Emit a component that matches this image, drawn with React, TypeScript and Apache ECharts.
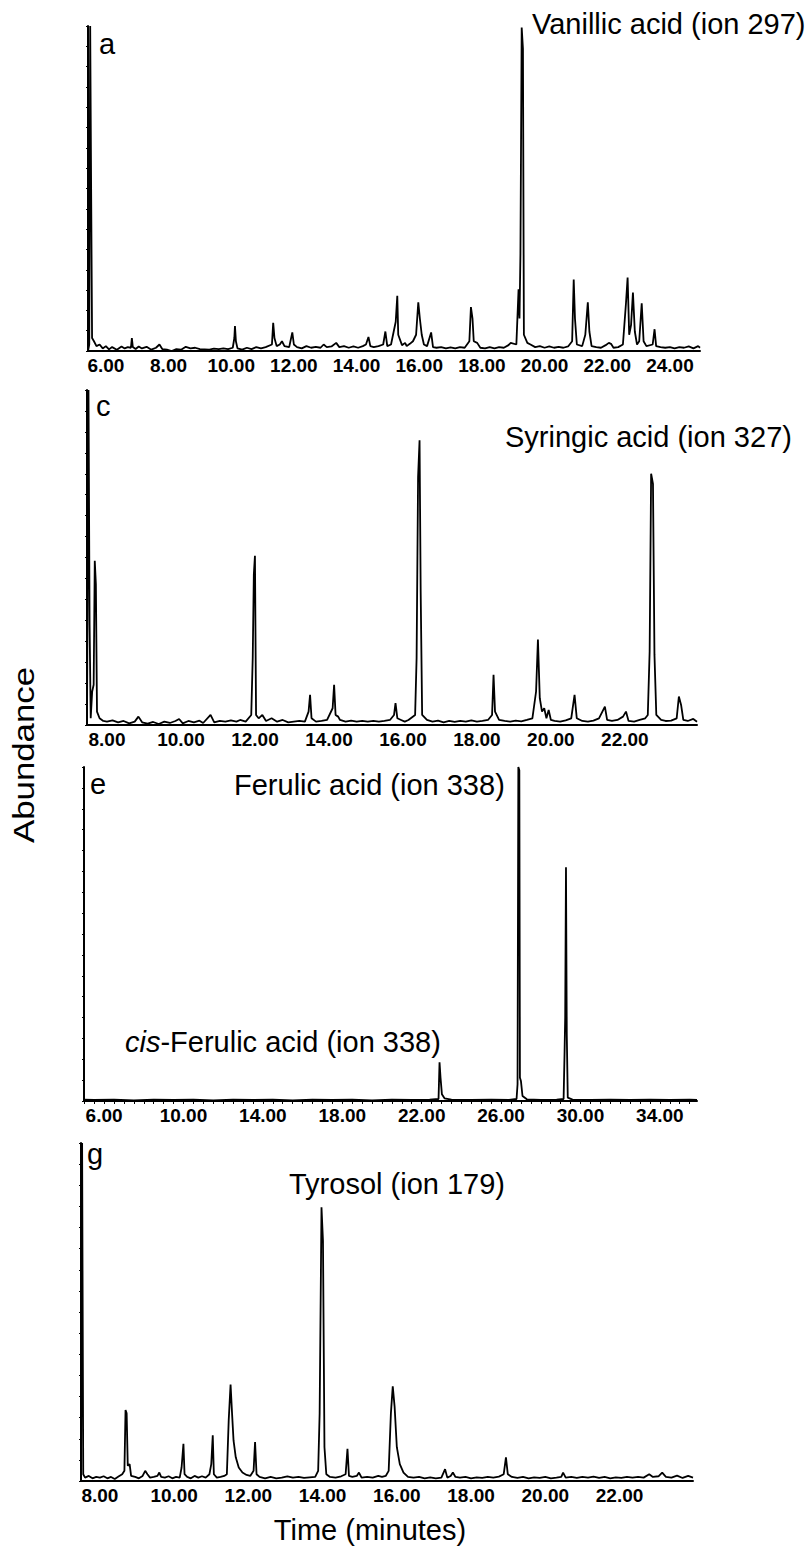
import React, { useEffect, useRef } from "react";
import * as echarts from "echarts";

// ---- data (time in minutes, abundance as fraction of panel height) ----
const vanillicTrace: number[][] = [
  [5.43,0.0],[5.47,0.02],[5.5,1.0],[5.53,0.5],[5.56,0.04],[5.62,0.03],[5.7,0.015],[5.8,0.02],[5.9,0.008],[6.0,0.015],[6.1,0.005],[6.2,0.012],[6.35,0.004],[6.5,0.014],[6.6,0.008],[6.7,0.012],[6.8,0.01],[6.83,0.04],[6.86,0.012],[6.95,0.006],[7.05,0.014],[7.15,0.008],[7.3,0.013],[7.45,0.004],[7.6,0.01],[7.71,0.02],[7.8,0.006],[7.95,0.004],[8.1,0.0],[8.25,0.006],[8.4,0.004],[8.55,0.013],[8.7,0.008],[8.85,0.01],[9.0,0.006],[9.15,0.005],[9.3,0.004],[9.45,0.007],[9.6,0.006],[9.75,0.008],[9.9,0.006],[10.05,0.01],[10.1,0.04],[10.12,0.077],[10.15,0.03],[10.2,0.008],[10.35,0.004],[10.5,0.01],[10.65,0.006],[10.8,0.012],[10.95,0.008],[11.1,0.012],[11.3,0.02],[11.34,0.087],[11.38,0.04],[11.45,0.015],[11.55,0.02],[11.62,0.03],[11.7,0.015],[11.85,0.012],[11.95,0.057],[12.0,0.02],[12.1,0.012],[12.25,0.008],[12.4,0.015],[12.55,0.01],[12.7,0.013],[12.85,0.01],[12.95,0.02],[13.05,0.012],[13.2,0.014],[13.35,0.025],[13.45,0.012],[13.6,0.015],[13.75,0.01],[13.9,0.014],[14.05,0.01],[14.2,0.015],[14.3,0.02],[14.38,0.043],[14.44,0.015],[14.55,0.012],[14.7,0.015],[14.85,0.02],[14.92,0.06],[14.98,0.015],[15.1,0.02],[15.25,0.09],[15.3,0.17],[15.33,0.05],[15.45,0.018],[15.55,0.025],[15.6,0.015],[15.7,0.022],[15.8,0.03],[15.9,0.05],[15.97,0.15],[16.02,0.1],[16.08,0.05],[16.15,0.02],[16.25,0.015],[16.38,0.057],[16.44,0.012],[16.55,0.01],[16.7,0.012],[16.85,0.008],[17.0,0.011],[17.15,0.008],[17.3,0.012],[17.45,0.01],[17.6,0.03],[17.65,0.135],[17.7,0.1],[17.74,0.03],[17.85,0.025],[17.95,0.01],[18.1,0.008],[18.25,0.012],[18.4,0.008],[18.55,0.012],[18.7,0.01],[18.85,0.018],[18.92,0.025],[19.1,0.02],[19.17,0.19],[19.2,0.1],[19.23,0.3],[19.27,0.995],[19.31,0.93],[19.34,0.05],[19.45,0.025],[19.55,0.02],[19.7,0.012],[19.85,0.015],[20.0,0.01],[20.15,0.014],[20.3,0.01],[20.45,0.013],[20.6,0.01],[20.75,0.014],[20.88,0.03],[20.93,0.22],[20.97,0.1],[21.03,0.02],[21.2,0.015],[21.3,0.05],[21.38,0.15],[21.43,0.06],[21.5,0.015],[21.65,0.012],[21.8,0.01],[21.95,0.018],[22.05,0.025],[22.12,0.022],[22.2,0.01],[22.35,0.012],[22.5,0.02],[22.6,0.15],[22.65,0.226],[22.7,0.05],[22.76,0.08],[22.82,0.18],[22.88,0.06],[22.95,0.02],[23.02,0.03],[23.1,0.147],[23.16,0.03],[23.25,0.015],[23.45,0.02],[23.51,0.067],[23.56,0.015],[23.7,0.012],[23.85,0.01],[24.0,0.012],[24.15,0.008],[24.3,0.012],[24.45,0.01],[24.6,0.014],[24.75,0.008],[24.9,0.015],[24.96,0.01]
];

const syringicTrace: number[][] = [
  [7.46,0.0],[7.5,1.0],[7.53,0.3],[7.56,0.02],[7.6,0.1],[7.64,0.12],[7.67,0.49],[7.7,0.42],[7.73,0.04],[7.8,0.02],[7.9,0.012],[8.0,0.01],[8.15,0.014],[8.3,0.008],[8.45,0.012],[8.6,0.005],[8.75,0.01],[8.85,0.025],[8.95,0.008],[9.1,0.004],[9.25,0.009],[9.4,0.003],[9.55,0.01],[9.7,0.006],[9.85,0.012],[9.95,0.018],[10.05,0.005],[10.2,0.012],[10.35,0.008],[10.5,0.013],[10.6,0.006],[10.8,0.03],[10.9,0.008],[11.05,0.012],[11.2,0.01],[11.35,0.014],[11.5,0.01],[11.6,0.015],[11.75,0.01],[11.9,0.03],[11.94,0.2],[11.97,0.45],[12.0,0.505],[12.03,0.03],[12.1,0.02],[12.2,0.03],[12.3,0.012],[12.45,0.02],[12.6,0.01],[12.75,0.015],[12.9,0.008],[13.05,0.01],[13.2,0.012],[13.35,0.01],[13.45,0.04],[13.49,0.09],[13.53,0.02],[13.65,0.01],[13.8,0.012],[13.95,0.015],[14.1,0.05],[14.14,0.12],[14.18,0.03],[14.25,0.025],[14.3,0.015],[14.45,0.01],[14.6,0.013],[14.75,0.01],[14.9,0.012],[15.05,0.01],[15.2,0.012],[15.35,0.01],[15.5,0.012],[15.65,0.015],[15.76,0.03],[15.8,0.065],[15.85,0.02],[15.95,0.015],[16.05,0.01],[16.15,0.015],[16.33,0.03],[16.37,0.2],[16.41,0.74],[16.45,0.85],[16.48,0.4],[16.52,0.03],[16.65,0.015],[16.8,0.01],[16.95,0.013],[17.1,0.008],[17.25,0.012],[17.4,0.009],[17.55,0.012],[17.7,0.01],[17.85,0.014],[18.0,0.01],[18.15,0.012],[18.3,0.015],[18.41,0.03],[18.45,0.15],[18.49,0.04],[18.6,0.015],[18.75,0.012],[18.9,0.01],[19.05,0.013],[19.2,0.011],[19.35,0.015],[19.5,0.02],[19.6,0.1],[19.65,0.255],[19.7,0.08],[19.76,0.04],[19.82,0.05],[19.88,0.02],[19.94,0.045],[20.0,0.015],[20.1,0.012],[20.25,0.01],[20.4,0.014],[20.55,0.02],[20.64,0.09],[20.7,0.02],[20.85,0.012],[21.0,0.01],[21.15,0.013],[21.3,0.02],[21.46,0.055],[21.52,0.015],[21.65,0.012],[21.8,0.015],[21.95,0.025],[22.03,0.04],[22.1,0.012],[22.25,0.01],[22.4,0.015],[22.55,0.02],[22.62,0.03],[22.67,0.22],[22.71,0.75],[22.76,0.72],[22.8,0.21],[22.85,0.03],[22.98,0.015],[23.1,0.012],[23.25,0.013],[23.4,0.02],[23.46,0.085],[23.52,0.06],[23.58,0.015],[23.7,0.012],[23.85,0.018],[23.95,0.01]
];

const ferulicTrace: number[][] = [
  [4.99,0.004],[5.5,0.003],[6.5,0.004],[7.5,0.002],[8.5,0.004],[9.5,0.003],[10.5,0.004],[11.5,0.002],[12.5,0.004],[13.5,0.003],[14.5,0.004],[15.5,0.002],[16.5,0.004],[17.5,0.003],[18.5,0.004],[19.5,0.002],[20.5,0.004],[21.5,0.003],[22.4,0.004],[22.85,0.006],[22.9,0.116],[22.95,0.07],[23.02,0.02],[23.15,0.008],[23.5,0.004],[24.5,0.003],[25.5,0.004],[26.4,0.003],[26.78,0.006],[26.83,0.05],[26.87,1.0],[26.92,0.99],[26.95,0.07],[27.0,0.06],[27.08,0.015],[27.3,0.005],[28.0,0.003],[28.8,0.004],[29.15,0.006],[29.2,0.15],[29.23,0.25],[29.27,0.7],[29.31,0.2],[29.36,0.01],[29.6,0.004],[30.5,0.003],[31.5,0.004],[32.5,0.003],[33.5,0.004],[34.5,0.003],[35.5,0.004],[35.87,0.003]
];

const tyrosolTrace: number[][] = [
  [7.49,0.0],[7.52,1.0],[7.55,0.02],[7.6,0.01],[7.7,0.015],[7.8,0.008],[7.9,0.012],[8.0,0.01],[8.1,0.014],[8.2,0.008],[8.3,0.012],[8.4,0.006],[8.5,0.013],[8.6,0.02],[8.66,0.03],[8.69,0.21],[8.72,0.2],[8.75,0.045],[8.8,0.05],[8.84,0.015],[8.95,0.012],[9.05,0.008],[9.15,0.015],[9.22,0.03],[9.28,0.02],[9.35,0.01],[9.45,0.012],[9.55,0.015],[9.6,0.025],[9.65,0.012],[9.75,0.01],[9.85,0.014],[9.95,0.008],[10.05,0.012],[10.15,0.01],[10.2,0.04],[10.25,0.11],[10.28,0.02],[10.35,0.012],[10.45,0.008],[10.55,0.015],[10.65,0.01],[10.75,0.014],[10.85,0.01],[10.95,0.02],[11.0,0.05],[11.04,0.135],[11.07,0.02],[11.15,0.01],[11.25,0.012],[11.35,0.015],[11.42,0.02],[11.47,0.18],[11.52,0.285],[11.56,0.2],[11.6,0.12],[11.66,0.07],[11.74,0.04],[11.84,0.025],[11.95,0.018],[12.05,0.015],[12.14,0.03],[12.18,0.115],[12.22,0.02],[12.3,0.012],[12.45,0.008],[12.6,0.012],[12.75,0.008],[12.9,0.01],[13.05,0.014],[13.2,0.01],[13.35,0.012],[13.5,0.009],[13.65,0.011],[13.8,0.012],[13.88,0.03],[13.92,0.2],[13.97,0.81],[14.01,0.71],[14.05,0.1],[14.1,0.02],[14.2,0.012],[14.35,0.01],[14.5,0.014],[14.62,0.02],[14.67,0.095],[14.71,0.015],[14.8,0.012],[14.92,0.015],[14.98,0.025],[15.05,0.01],[15.2,0.012],[15.35,0.01],[15.5,0.015],[15.6,0.012],[15.7,0.015],[15.78,0.03],[15.84,0.2],[15.89,0.28],[15.94,0.22],[16.0,0.1],[16.08,0.05],[16.18,0.025],[16.3,0.012],[16.45,0.01],[16.6,0.012],[16.75,0.008],[16.9,0.011],[17.05,0.008],[17.2,0.01],[17.3,0.035],[17.36,0.01],[17.45,0.015],[17.51,0.025],[17.58,0.012],[17.7,0.01],[17.85,0.012],[18.0,0.008],[18.15,0.011],[18.3,0.009],[18.45,0.012],[18.6,0.01],[18.75,0.013],[18.88,0.02],[18.94,0.07],[18.99,0.02],[19.1,0.012],[19.25,0.009],[19.4,0.012],[19.55,0.008],[19.7,0.011],[19.85,0.009],[20.0,0.012],[20.15,0.008],[20.3,0.01],[20.43,0.012],[20.48,0.025],[20.55,0.01],[20.7,0.012],[20.85,0.009],[21.0,0.012],[21.15,0.01],[21.3,0.013],[21.45,0.009],[21.6,0.012],[21.75,0.008],[21.9,0.011],[22.05,0.009],[22.2,0.012],[22.35,0.01],[22.5,0.012],[22.65,0.01],[22.8,0.02],[22.9,0.012],[23.05,0.014],[23.15,0.025],[23.25,0.012],[23.4,0.01],[23.55,0.016],[23.7,0.009],[23.85,0.015],[23.98,0.01]
];

const ticksA = [6, 8, 10, 12, 14, 16, 18, 20, 22, 24];
const ticksC = [8, 10, 12, 14, 16, 18, 20, 22];
const ticksE = [6, 10, 14, 18, 22, 26, 30, 34];
const ticksG = [8, 10, 12, 14, 16, 18, 20, 22];

const panelLetters = ["a", "c", "e", "g"];
const compoundLabels = [
  "Vanillic acid (ion 297)",
  "Syringic acid (ion 327)",
  "Ferulic acid (ion 338)",
  "cis-Ferulic acid (ion 338)",
  "Tyrosol (ion 179)",
];

const FONT = "'Liberation Sans', Arial, Helvetica, sans-serif";
const NARROW = "'Liberation Sans Narrow', 'Arial Narrow', 'Liberation Sans', Arial, sans-serif";

export default function App() {
  const ref = useRef<HTMLDivElement>(null);

  useEffect(() => {
    if (!ref.current) return;
    const chart = echarts.init(ref.current, undefined, { renderer: "svg" });

    const panels = [
      { data: vanillicTrace, ticks: ticksA, min: 5.43, max: 24.96, left: 88, right: 106, top: 26, bottom: 1200, minor: false },
      { data: syringicTrace, ticks: ticksC, min: 7.46, max: 23.95, left: 87, right: 109, top: 390, bottom: 826, minor: false },
      { data: ferulicTrace, ticks: ticksE, min: 4.99, max: 35.87, left: 84, right: 109, top: 767, bottom: 450, minor: true },
      { data: tyrosolTrace, ticks: ticksG, min: 7.49, max: 23.98, left: 81, right: 113, top: 1143, bottom: 70, minor: false },
    ];

    const minorTicks: number[] = [];
    for (let v = 5; v <= 35.5; v += 0.5) minorTicks.push(v);

    const textStyle = (text: string, x: number, y: number, extra: any = {}) => ({
      type: "text",
      x,
      y,
      style: {
        text,
        fill: "#000",
        fontSize: 29,
        fontFamily: FONT,
        align: "left",
        verticalAlign: "middle",
        ...extra,
      },
    });

    const option: any = {
      animation: false,
      backgroundColor: "#fff",
      grid: panels.map((p) => ({ left: p.left, right: p.right, top: p.top, bottom: p.bottom, containLabel: false })),
      xAxis: panels.map((p, i) => ({
        type: "value",
        gridIndex: i,
        min: p.min,
        max: p.max,
        axisLine: { show: true, lineStyle: { color: "#000", width: 2 } },
        axisTick: p.minor
          ? { show: true, customValues: minorTicks, length: 3, lineStyle: { color: "#000", width: 1 } }
          : { show: false },
        axisLabel: {
          customValues: p.ticks,
          formatter: (v: number) => v.toFixed(2),
          color: "#000",
          fontSize: 19,
          fontWeight: "bold",
          fontFamily: NARROW,
          margin: 5,
        },
        splitLine: { show: false },
      })),
      yAxis: panels.map((p, i) => ({
        type: "value",
        gridIndex: i,
        min: 0,
        max: 1,
        interval: 0.0625,
        axisLine: { show: true, lineStyle: { color: "#000", width: 2 } },
        axisTick: { show: true, length: 2, lineStyle: { color: "#000", width: 1 } },
        axisLabel: { show: false },
        splitLine: { show: false },
      })),
      series: panels.map((p, i) => ({
        type: "line",
        xAxisIndex: i,
        yAxisIndex: i,
        data: p.data,
        showSymbol: false,
        symbol: "none",
        lineStyle: { color: "#000", width: 1.8 },
        silent: true,
      })),
      graphic: [
        textStyle(panelLetters[0], 99, 44),
        textStyle(compoundLabels[0], 532, 24),
        textStyle(panelLetters[1], 96, 406),
        textStyle(compoundLabels[1], 505, 437),
        textStyle(panelLetters[2], 90, 784),
        textStyle(compoundLabels[2], 234, 785),
        textStyle("{i|cis}-Ferulic acid (ion 338)", 125, 1042, {
          rich: { i: { fontStyle: "italic", fontSize: 29, fontFamily: FONT, fill: "#000" } },
        }),
        textStyle(panelLetters[3], 87, 1154),
        textStyle(compoundLabels[4], 289, 1184),
        textStyle("Time (minutes)", 370, 1530, { align: "center" }),
        {
          type: "text",
          x: 24,
          y: 755,
          rotation: Math.PI / 2,
          scaleX: 1.2,
          style: {
            text: "Abundance",
            fill: "#000",
            fontSize: 29,
            fontFamily: FONT,
            align: "center",
            verticalAlign: "middle",
          },
        },
      ],
    };

    chart.setOption(option);
    return () => chart.dispose();
  }, []);

  return (
    <div
      ref={ref}
      style={{ position: "absolute", left: 0, top: 0, width: 806, height: 1551, background: "#fff" }}
    />
  );
}
